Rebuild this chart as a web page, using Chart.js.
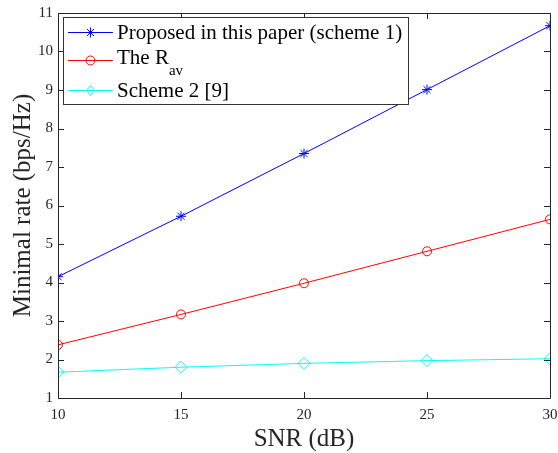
<!DOCTYPE html>
<html>
<head>
<meta charset="utf-8">
<script src="https://cdn.jsdelivr.net/npm/chart.js@4/dist/chart.umd.min.js"></script>
<style>
  html, body { margin: 0; padding: 0; background: #fff; }
  #wrap { width: 558px; height: 453px; position: relative; }
</style>
</head>
<body>
<div id="wrap"><canvas id="myChart"></canvas></div>
<script>
// data
const snr = [10, 15, 20, 25, 30];
const proposed = [4.15, 5.72, 7.35, 9.01, 10.67];
const rav = [2.38, 3.17, 3.98, 4.81, 5.64];
const scheme2 = [1.67, 1.80, 1.90, 1.97, 2.02];
const xTicks = [10, 15, 20, 25, 30];
const yTicks = [1, 2, 3, 4, 5, 6, 7, 8, 9, 10, 11];

const FONT = '"Liberation Serif", "Times New Roman", serif';
const AXIS_COLOR = '#262626';

function toPoints(ys) {
    return snr.map((x, i) => ({ x: x, y: ys[i] }));
}

// box around the axes + inward ticks (matlab style)
const boxPlugin = {
    id: 'boxPlugin',
    afterDatasetsDraw(chart) {
        const ctx = chart.ctx;
        const a = chart.chartArea;
        const xs = chart.scales.x, ys = chart.scales.y;
        const tl = 6;
        ctx.save();
        ctx.strokeStyle = AXIS_COLOR;
        ctx.lineWidth = 1;
        ctx.beginPath();
        ctx.rect(Math.round(a.left) + 0.5, Math.round(a.top) + 0.5,
                 Math.round(a.right - a.left), Math.round(a.bottom - a.top));
        xTicks.forEach(v => {
            const px = Math.round(xs.getPixelForValue(v)) + 0.5;
            ctx.moveTo(px, a.bottom); ctx.lineTo(px, a.bottom - tl);
            ctx.moveTo(px, a.top); ctx.lineTo(px, a.top + tl);
        });
        yTicks.forEach(v => {
            const py = Math.round(ys.getPixelForValue(v)) + 0.5;
            ctx.moveTo(a.left, py); ctx.lineTo(a.left + tl, py);
            ctx.moveTo(a.right, py); ctx.lineTo(a.right - tl, py);
        });
        ctx.stroke();

        // axis titles
        ctx.fillStyle = AXIS_COLOR;
        ctx.font = '25px ' + FONT;
        ctx.textAlign = 'center';
        ctx.textBaseline = 'alphabetic';
        ctx.fillText('SNR (dB)', (a.left + a.right) / 2, 446);
        ctx.translate(30, (a.top + a.bottom) / 2);
        ctx.rotate(-Math.PI / 2);
        ctx.fillText('Minimal rate (bps/Hz)', 0, 0);
        ctx.restore();
    }
};

function drawMarker(ctx, style, x, y, r, color) {
    ctx.strokeStyle = color;
    ctx.lineWidth = 1;
    ctx.beginPath();
    if (style === 'circle') {
        ctx.arc(x, y, r, 0, Math.PI * 2);
    } else if (style === 'rectRot') {
        ctx.moveTo(x, y - r); ctx.lineTo(x + r * 0.8, y);
        ctx.lineTo(x, y + r); ctx.lineTo(x - r * 0.8, y); ctx.closePath();
    } else {
        for (let k = 0; k < 4; k++) {
            const ang = k * Math.PI / 4;
            ctx.moveTo(x - r * Math.cos(ang), y - r * Math.sin(ang));
            ctx.lineTo(x + r * Math.cos(ang), y + r * Math.sin(ang));
        }
    }
    ctx.stroke();
}

// legend inside the axes, top-left
const legendPlugin = {
    id: 'legendBox',
    afterDraw(chart) {
        const ctx = chart.ctx;
        const bx = 63.5, by = 17.5, bw = 345, bh = 87;
        ctx.save();
        ctx.fillStyle = '#fff';
        ctx.fillRect(bx, by, bw, bh);
        ctx.strokeStyle = '#333';
        ctx.lineWidth = 1;
        ctx.strokeRect(bx, by, bw, bh);

        const rows = [
            { ds: 0, my: 32 },
            { ds: 1, my: 60 },
            { ds: 2, my: 90 }
        ];
        rows.forEach(r => {
            const ds = chart.data.datasets[r.ds];
            ctx.strokeStyle = ds.borderColor;
            ctx.lineWidth = 1;
            ctx.beginPath();
            ctx.moveTo(68, r.my + 0.5); ctx.lineTo(113, r.my + 0.5);
            ctx.stroke();
            drawMarker(ctx, ds.pointStyle, 90.5, r.my + 0.5, ds.pointStyle === 'rectRot' ? 5 : ds.pointRadius, ds.borderColor);
        });

        ctx.fillStyle = '#000';
        ctx.textAlign = 'left';
        ctx.textBaseline = 'alphabetic';
        ctx.font = '21px ' + FONT;
        ctx.fillText('Proposed in this paper (scheme 1)', 117, 39);
        ctx.fillText('The R', 117, 64);
        const w = ctx.measureText('The R').width;
        ctx.font = '15px ' + FONT;
        ctx.fillText('av', 117 + w, 75);
        ctx.font = '21px ' + FONT;
        ctx.fillText('Scheme 2 [9]', 117, 97);
        ctx.restore();
    }
};

const ctx = document.getElementById('myChart').getContext('2d');
const myChart = new Chart(ctx, {
    type: 'line',
    data: {
        datasets: [{
            label: 'Proposed in this paper (scheme 1)',
            data: toPoints(proposed),
            borderColor: '#0000ff',
            backgroundColor: 'rgba(0,0,0,0)',
            borderWidth: 1,
            pointStyle: 'star',
            pointRadius: 5,
            pointBorderWidth: 1
        }, {
            label: 'The Rav',
            data: toPoints(rav),
            borderColor: '#ff0000',
            backgroundColor: 'rgba(0,0,0,0)',
            borderWidth: 1,
            pointStyle: 'circle',
            pointRadius: 4.5,
            pointBorderWidth: 1
        }, {
            label: 'Scheme 2 [9]',
            data: toPoints(scheme2),
            borderColor: '#00ffff',
            backgroundColor: 'rgba(0,0,0,0)',
            borderWidth: 1,
            pointStyle: 'rectRot',
            pointRadius: 6,
            pointBorderWidth: 1
        }]
    },
    options: {
        responsive: true,
        maintainAspectRatio: false,
        animation: false,
        layout: { padding: { top: 13, right: 8, left: 0, bottom: 0 } },
        plugins: {
            legend: { display: false },
            tooltip: { enabled: false }
        },
        scales: {
            x: {
                type: 'linear',
                min: 10,
                max: 30,
                grid: { display: false, drawTicks: false },
                border: { display: false },
                afterBuildTicks: (scale) => { scale.ticks = xTicks.map(v => ({ value: v })); },
                afterFit: (scale) => {
                    scale.height = 55;
                    scale.paddingLeft = 0;
                    scale.paddingRight = 0;
                },
                ticks: {
                    padding: 8,
                    maxRotation: 0,
                    color: AXIS_COLOR,
                    font: { family: FONT, size: 15 }
                }
            },
            y: {
                min: 1,
                max: 11,
                grid: { display: false, drawTicks: false },
                border: { display: false },
                afterBuildTicks: (scale) => { scale.ticks = yTicks.map(v => ({ value: v })); },
                afterFit: (scale) => {
                    scale.width = 58;
                    scale.paddingTop = 0;
                    scale.paddingBottom = 0;
                },
                ticks: {
                    padding: 5,
                    color: AXIS_COLOR,
                    font: { family: FONT, size: 15 }
                }
            }
        }
    },
    plugins: [boxPlugin, legendPlugin]
});
</script>
</body>
</html>
